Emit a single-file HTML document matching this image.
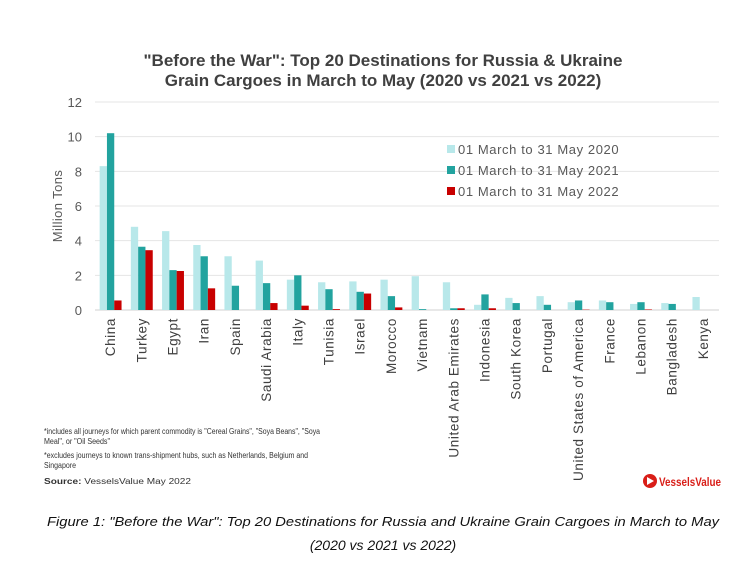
<!DOCTYPE html>
<html><head><meta charset="utf-8"><style>
html,body{margin:0;padding:0;background:#fff;}
svg{display:block;font-family:"Liberation Sans",sans-serif;}
</style></head><body>
<svg id="chart" width="753" height="570" viewBox="0 0 753 570" xmlns="http://www.w3.org/2000/svg">
<rect width="753" height="570" fill="#fff"/>
<text x="383" y="66" text-anchor="middle" font-size="17" font-weight="bold" fill="#404040">"Before the War": Top 20 Destinations for Russia &amp; Ukraine</text>
<text x="383" y="86" text-anchor="middle" font-size="17" font-weight="bold" fill="#404040">Grain Cargoes in March to May (2020 vs 2021 vs 2022)</text>
<g id="grid"></g>
<g id="bars"></g>
<g id="xlabels"></g>
<text transform="translate(62,206) rotate(-90)" text-anchor="middle" font-size="13" fill="#595959" letter-spacing="0.4">Million Tons</text>
<g letter-spacing="0.6">
<rect x="447" y="145" width="8" height="8" fill="#b8e8ea"/>
<text x="458" y="154" font-size="13" fill="#595959">01 March to 31 May 2020</text>
<rect x="447" y="166" width="8" height="8" fill="#22a39f"/>
<text x="458" y="175" font-size="13" fill="#595959">01 March to 31 May 2021</text>
<rect x="447" y="187" width="8" height="8" fill="#c80000"/>
<text x="458" y="196" font-size="13" fill="#595959">01 March to 31 May 2022</text>
</g>
<g font-size="8" fill="#333">
<text x="44" y="434" textLength="276" lengthAdjust="spacingAndGlyphs">*includes all journeys for which parent commodity is "Cereal Grains", "Soya Beans", "Soya</text>
<text x="44" y="444" textLength="66" lengthAdjust="spacingAndGlyphs">Meal", or "Oil Seeds"</text>
<text x="44" y="458" textLength="264" lengthAdjust="spacingAndGlyphs">*excludes journeys to known trans-shipment hubs, such as Netherlands, Belgium and</text>
<text x="44" y="468" textLength="32" lengthAdjust="spacingAndGlyphs">Singapore</text>
<text x="44" y="484" textLength="147" lengthAdjust="spacingAndGlyphs"><tspan font-weight="bold">Source:</tspan> VesselsValue May 2022</text>
</g>
<g>
<circle cx="650" cy="481" r="7" fill="#d91e18"/>
<path d="M647 477 L654 481 L647 485 Z" fill="#fff"/>
<text x="659" y="486" font-size="12" font-weight="bold" fill="#d91e18" textLength="62" lengthAdjust="spacingAndGlyphs">VesselsValue</text>
</g>
<text x="383" y="526" text-anchor="middle" font-size="13" font-style="italic" fill="#111" textLength="672" lengthAdjust="spacingAndGlyphs">Figure 1: "Before the War": Top 20 Destinations for Russia and Ukraine Grain Cargoes in March to May</text>
<text x="383" y="550" text-anchor="middle" font-size="14" font-style="italic" fill="#111">(2020 vs 2021 vs 2022)</text>
</svg>
<script>
const categories = ["China","Turkey","Egypt","Iran","Spain","Saudi Arabia","Italy","Tunisia","Israel","Morocco","Vietnam","United Arab Emirates","Indonesia","South Korea","Portugal","United States of America","France","Lebanon","Bangladesh","Kenya"];
const values2020 = [8.3,4.8,4.55,3.75,3.1,2.85,1.75,1.6,1.65,1.75,1.95,1.6,0.3,0.7,0.8,0.45,0.55,0.35,0.4,0.75];
const values2021 = [10.2,3.65,2.3,3.1,1.4,1.55,2.0,1.2,1.05,0.8,0.05,0.1,0.9,0.4,0.3,0.55,0.45,0.45,0.35,0];
const values2022 = [0.55,3.45,2.25,1.25,0,0.4,0.25,0.05,0.95,0.15,0,0.1,0.1,0,0,0.02,0,0.03,0,0];
const yTicks = [0,2,4,6,8,10,12];
const NS="http://www.w3.org/2000/svg";
const x0=95, x1=719, yBase=310, yTop=102, yMax=12;
const band=(x1-x0)/categories.length;
function yScale(v){return yBase-(v/yMax)*(yBase-yTop);}
function xCenter(i){return x0+band*(i+0.5);}
function mk(tag,attrs,parent){const e=document.createElementNS(NS,tag);for(const k in attrs)e.setAttribute(k,attrs[k]);parent.appendChild(e);return e;}
const grid=document.getElementById('grid');
yTicks.forEach(t=>{
  const y=yScale(t);
  const l=mk('line',{x1:x0,x2:x1,y1:y,y2:y,stroke:t===0?'#d0d0d0':'#e4e4e4','stroke-width':1},grid);
  
  
  const tx=mk('text',{x:82,y:y+5,'text-anchor':'end','font-size':13,fill:'#595959'},grid);
  tx.textContent=t;
  
  
});
const bars=document.getElementById('bars');
const series=[[values2020,'#b8e8ea','2020'],[values2021,'#22a39f','2021'],[values2022,'#c80000','2022']];
const bw=7.3;
categories.forEach((c,i)=>{
  series.forEach((s,j)=>{
    const v=s[0][i];
    const x=xCenter(i)-bw*1.5+j*bw;
    const r=mk('rect',{x:x,y:yScale(v),width:bw,height:yBase-yScale(v),fill:s[1]},bars);
    
    
  });
});
const xl=document.getElementById('xlabels');
categories.forEach((c,i)=>{
  const x=xCenter(i)+4.5;
  const t=mk('text',{transform:'translate('+x+',318) rotate(-90)','text-anchor':'end','font-size':13.5,'letter-spacing':0.6,fill:'#404040'},xl);
  t.textContent=c;
  
  
});
</script>
</body></html>
